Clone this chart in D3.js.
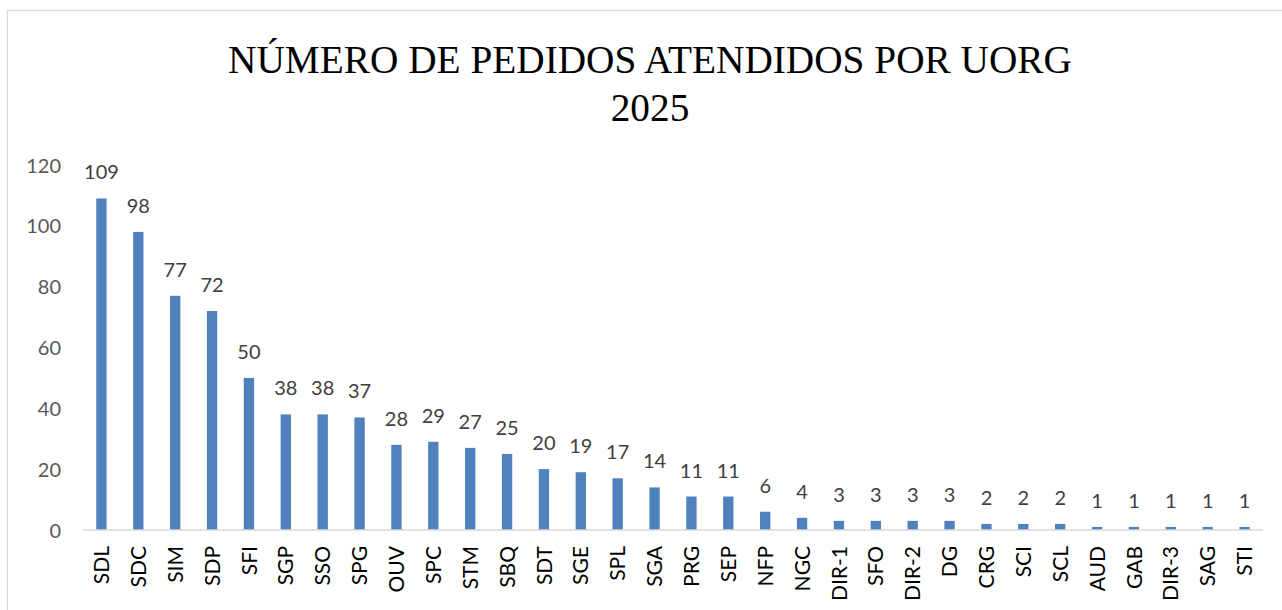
<!DOCTYPE html>
<html>
<head>
<meta charset="utf-8">
<script src="https://cdn.jsdelivr.net/npm/d3@7"></script>
<style>
  html, body { margin: 0; padding: 0; background: #ffffff; }
  svg { display: block; }
</style>
</head>
<body>
<svg id="chart" width="1282" height="610"></svg>
<script>
const titleLines = ["NÚMERO DE PEDIDOS ATENDIDOS POR UORG", "2025"];
const categories = ["SDL","SDC","SIM","SDP","SFI","SGP","SSO","SPG","OUV","SPC","STM","SBQ","SDT","SGE","SPL","SGA","PRG","SEP","NFP","NGC","DIR-1","SFO","DIR-2","DG","CRG","SCI","SCL","AUD","GAB","DIR-3","SAG","STI"];
const values = [109,98,77,72,50,38,38,37,28,29,27,25,20,19,17,14,11,11,6,4,3,3,3,3,2,2,2,1,1,1,1,1];
const yTicks = [0,20,40,60,80,100,120];

const W = 1282, H = 610;
const svg = d3.select("#chart");

// outer chart border
svg.append("rect")
  .attr("x", 7.5).attr("y", 10.5)
  .attr("width", W).attr("height", H)
  .attr("fill", "#ffffff")
  .attr("stroke", "#d9d9d9").attr("stroke-width", 1.2);

const m = { left: 83, right: 1263, top: 165, bottom: 530 };
const x = d3.scaleBand().domain(categories).range([m.left, m.right]).paddingInner(0.72).paddingOuter(0.36);
const y = d3.scaleLinear().domain([0, 120]).range([m.bottom, m.top]);

const sans = "Lato, 'Open Sans', sans-serif";

// Title
const tg = svg.append("g");
const t1 = tg.append("text")
  .attr("x", 650).attr("y", 73)
  .attr("text-anchor", "middle")
  .attr("font-family", "'Liberation Serif', 'DejaVu Serif', serif")
  .attr("font-size", 44)
  .attr("fill", "#000")
  .text(titleLines[0]);
const w = t1.node().getComputedTextLength();
const fs = 44 * 844 / w;
t1.attr("font-size", fs);
tg.append("text")
  .attr("x", 650).attr("y", 121)
  .attr("text-anchor", "middle")
  .attr("font-family", "'Liberation Serif', 'DejaVu Serif', serif")
  .attr("font-size", fs)
  .attr("fill", "#000")
  .text(titleLines[1]);

// Y axis (labels only)
const yAxis = d3.axisLeft(y).tickValues(yTicks).tickSize(0).tickPadding(0);
const yg = svg.append("g").attr("transform", `translate(61,0)`).call(yAxis);
yg.select(".domain").remove();
yg.selectAll("text")
  .attr("font-family", sans)
  .attr("font-size", 20)
  .attr("fill", "#595959")
  .attr("dy", "0.35em");

// Bars
svg.append("g").selectAll("rect")
  .data(categories)
  .join("rect")
  .attr("x", d => x(d))
  .attr("width", x.bandwidth())
  .attr("y", (d, i) => y(values[i]))
  .attr("height", (d, i) => y(0) - y(values[i]))
  .attr("fill", "#4f81bd");

// Data labels
svg.append("g").selectAll("text")
  .data(categories)
  .join("text")
  .attr("x", d => x(d) + x.bandwidth() / 2)
  .attr("y", (d, i) => y(values[i]) - 19)
  .attr("text-anchor", "middle")
  .attr("font-family", sans)
  .attr("font-size", 20)
  .attr("fill", "#404040")
  .text((d, i) => values[i]);

// X axis
const xAxis = d3.axisBottom(x).tickSize(0).tickPadding(0);
const xg = svg.append("g").attr("transform", `translate(0,${m.bottom})`).call(xAxis);
xg.select(".domain").attr("stroke", "#d9d9d9").attr("stroke-width", 1.5)
  .attr("d", `M${m.left},0H${m.right}`);
xg.selectAll("text")
  .attr("font-family", sans)
  .attr("font-size", 21)
  .attr("fill", "#000")
  .attr("text-anchor", "end")
  .attr("transform", "rotate(-90)")
  .attr("x", -16)
  .attr("y", 0)
  .attr("dy", "0.36em");
</script>
</body>
</html>
